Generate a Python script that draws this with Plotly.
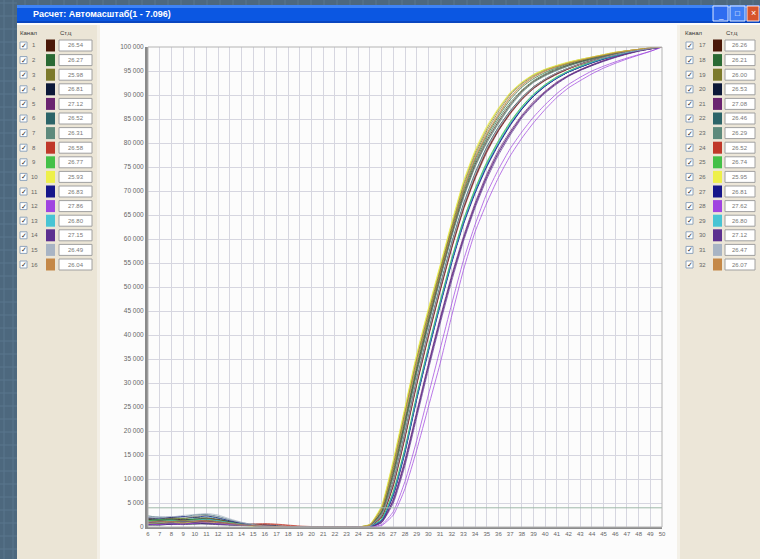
import plotly.graph_objects as go

# ---------------- data ----------------
cycles = list(range(6, 51))
well_ids = list(range(1, 33))
well_colors = ["#4a1808", "#2a6a34", "#7c7a2c", "#0c1838", "#6a2470", "#2c6468",
               "#5e8a7c", "#c0382a", "#44c048", "#eef04a", "#16168a", "#a044e0",
               "#48c4d4", "#5c3090", "#a8b4c4", "#c48848"] * 2
ct_values = ["26.54", "26.27", "25.98", "26.81", "27.12", "26.52", "26.31", "26.58",
             "26.77", "25.93", "26.83", "27.86", "26.80", "27.15", "26.49", "26.04",
             "26.26", "26.21", "26.00", "26.53", "27.08", "26.46", "26.29", "26.52",
             "26.74", "25.95", "26.81", "27.62", "26.80", "27.12", "26.47", "26.07"]
threshold = 4000
y_ticks = list(range(0, 100001, 5000))
title_text = "Расчет: Автомасштаб(1 - 7.096)"
header_left = "Канал"
header_right = "Cт,ц"

# fluorescence, thousands of units, cycles 6..50
w01 = [1.4,1.2,1.5,1.3,1.6,1.4,1.1,0.8,0.5,0.3,0.2,0.1,0,0,0,0,0,0,0, 0.2,2.4,9.5,19.5,30.5,40.5,50,59,67,73.5,79,83.2,86.6,89.4,91.7,93.3,94.6,95.6,96.5,97.2,97.9,98.5,99,99.4,99.7,100]
w02 = [0.8,0.9,0.7,1.0,0.9,0.8,0.6,0.5,0.3,0.2,0.1,0,0,0,0,0,0,0,0, 0.3,3.2,11.5,22,33,43,52.5,61.5,69.5,76,81,85,88.4,91,93,94.4,95.5,96.3,97,97.6,98.2,98.7,99.1,99.4,99.7,100]
w03 = [1.9,1.7,2.0,1.8,2.2,2.4,1.9,1.3,0.8,0.4,0.2,0.1,0,0,0,0,0,0,0, 0.5,4.2,13.5,24.5,35.5,45,54,63,71.5,78,83,87,90.3,92.5,94.2,95.3,96.1,96.8,97.4,97.9,98.4,98.9,99.2,99.5,99.8,100]
w04 = [0.4,0.5,0.6,0.5,0.7,0.6,0.5,0.4,0.5,0.6,0.5,0.3,0.1,0,0,0,0,0,0, 0.1,1.4,6.8,15.8,26.8,36.8,46.3,55.3,63.3,69.8,75.3,79.8,83.8,87.1,89.8,91.9,93.5,94.8,95.8,96.7,97.5,98.2,98.8,99.3,99.7,100]
w05 = [1.1,1.3,1.0,1.2,1.1,1.5,1.2,0.9,0.6,0.4,0.2,0.1,0,0,0,0,0,0,0, 0,1.0,5.5,13.5,23.5,33.5,43,52,60,67,73,78,82,85.5,88.3,90.6,92.5,94,95.2,96.2,97.1,97.9,98.6,99.2,99.6,100]
w06 = [2.3,2.0,1.8,2.1,2.5,2.6,2.2,1.5,0.9,0.5,0.3,0.1,0,0,0,0,0,0,0, 0.2,2.2,9,19,30,40,49.5,58.5,66.5,73,78.5,82.8,86.3,89.2,91.5,93.2,94.5,95.5,96.4,97.1,97.8,98.4,98.9,99.3,99.7,100]
w07 = [1.0,1.1,1.2,0.9,1.0,1.3,1.0,0.7,0.5,0.3,0.2,0.1,0,0,0,0,0,0,0, 0.3,2.8,10.5,21,32,42,51.5,60.5,68.5,75,80,84,87.6,90.5,92.6,94,95.1,96,96.8,97.4,98,98.5,99,99.4,99.7,100]
w08 = [0.6,0.7,0.9,0.8,0.9,1.0,0.8,0.6,0.5,0.6,0.7,0.6,0.4,0.2,0.1,0,0,0,0, 0.2,2.0,8.5,18.5,29.5,39.5,49,58,66,72.5,78,82.5,86,89,91.3,93,94.3,95.4,96.3,97,97.7,98.3,98.9,99.3,99.7,100]
w09 = [1.5,1.4,1.6,1.7,1.5,1.8,1.4,1.0,0.6,0.3,0.1,0,0,0,0,0,0,0,0, 0.1,1.6,7.2,16.2,27.2,37.2,46.8,55.8,63.8,70.3,75.8,80.3,84.2,87.5,90.1,92.1,93.7,95,96,96.9,97.6,98.2,98.8,99.3,99.7,100]
w10 = [0.9,1.0,1.1,1.2,1.4,1.2,1.0,0.7,0.4,0.2,0.1,0,0,0,0,0,0,0,0, 0.6,4.5,14,25,36,45.5,54.5,63.5,72,78.5,83.5,87.3,90.5,92.7,94.3,95.4,96.2,96.9,97.4,97.9,98.4,98.9,99.2,99.5,99.8,100]
w11 = [1.7,1.5,1.3,1.6,1.4,1.7,1.5,1.1,0.7,0.4,0.2,0.1,0,0,0,0,0,0,0, 0.1,1.3,6.5,15.5,26.5,36.5,46,55,63,69.5,75,79.6,83.6,87,89.7,91.8,93.5,94.8,95.8,96.7,97.5,98.2,98.8,99.3,99.7,100]
w12 = [0.5,0.6,0.5,0.7,0.8,0.7,0.6,0.5,0.4,0.3,0.2,0.1,0,0,0,0,0,0,0, 0,0.3,2.5,8,16,25,34,44,53.5,61.5,67.5,72.8,77.3,81,84.2,87,89.5,91.5,93,94.4,95.6,96.6,97.5,98.3,99.1,100]
w13 = [1.2,1.4,1.3,1.5,1.9,2.1,1.8,1.2,0.7,0.4,0.2,0.1,0,0,0,0,0,0,0, 0.1,1.5,7,16,27,37,46.5,55.5,63.5,70,75.5,80,84,87.3,90,92,93.6,94.9,95.9,96.8,97.6,98.2,98.8,99.3,99.7,100]
w14 = [0.7,0.8,1.0,0.9,1.1,0.9,0.8,0.6,0.4,0.3,0.2,0.1,0,0,0,0,0,0,0, 0,0.9,5,12.8,22.8,32.8,42.3,51.3,59.5,66.5,72.5,77.5,81.6,85.2,88,90.4,92.3,93.9,95.1,96.1,97,97.8,98.5,99.1,99.6,100]
w15 = [2.0,2.2,2.1,2.4,2.6,2.8,2.5,1.7,1.0,0.5,0.2,0.1,0,0,0,0,0,0,0, 0.2,2.3,9.2,19.3,30.3,40.3,49.8,58.8,66.8,73.3,78.8,83,86.5,89.3,91.6,93.3,94.6,95.6,96.4,97.1,97.8,98.4,98.9,99.3,99.7,100]
w16 = [1.3,1.1,1.4,1.2,1.5,1.3,1.2,0.9,0.6,0.4,0.2,0.1,0,0,0,0,0,0,0, 0.4,3.8,12.5,23.5,34.5,44,53,62,70.5,77,82,86,89.6,92,93.8,95,95.9,96.6,97.2,97.8,98.3,98.8,99.2,99.5,99.8,100]
w17 = [1.6,1.4,1.7,1.5,1.6,1.9,1.6,1.1,0.7,0.4,0.2,0.1,0,0,0,0,0,0,0, 0.3,3,11,21.5,32.5,42.5,52,61,69,75.5,80.5,84.5,88,90.8,92.8,94.2,95.3,96.2,96.9,97.5,98.1,98.6,99,99.4,99.7,100]
w18 = [0.9,0.8,1.0,1.1,1.0,1.2,0.9,0.7,0.5,0.3,0.2,0.1,0,0,0,0,0,0,0, 0.3,3.4,12,22.5,33.5,43.5,53,62,70,76.5,81.5,85.5,89,91.6,93.4,94.7,95.7,96.5,97.1,97.7,98.2,98.7,99.1,99.4,99.7,100]
w19 = [1.8,1.6,1.9,1.7,2.0,1.8,1.5,1.0,0.6,0.3,0.1,0,0,0,0,0,0,0,0, 0.5,4,13,24,35,44.5,53.5,62.5,71,77.5,82.5,86.5,90,92.3,94,95.2,96,96.7,97.3,97.8,98.3,98.8,99.2,99.5,99.8,100]
w20 = [0.5,0.4,0.6,0.7,0.6,0.8,0.7,0.5,0.4,0.3,0.2,0.1,0,0,0,0,0,0,0, 0.2,2.1,8.8,18.8,29.8,39.8,49.3,58.3,66.3,72.8,78.3,82.6,86.2,89.1,91.4,93.1,94.4,95.5,96.4,97.1,97.8,98.4,98.9,99.3,99.7,100]
w21 = [1.0,1.2,1.1,1.3,1.2,1.4,1.1,0.8,0.5,0.3,0.2,0.1,0,0,0,0,0,0,0, 0,1.1,5.8,14,24,34,43.5,52.5,60.5,67.5,73.5,78.5,82.4,85.8,88.6,90.8,92.7,94.1,95.3,96.3,97.2,98,98.6,99.2,99.6,100]
w22 = [1.4,1.6,1.5,1.3,1.7,1.6,1.3,0.9,0.6,0.4,0.2,0.1,0,0,0,0,0,0,0, 0.2,2.5,9.5,19.8,30.8,40.8,50.3,59.3,67.3,73.8,79.2,83.3,86.7,89.5,91.7,93.3,94.6,95.6,96.4,97.1,97.8,98.4,98.9,99.3,99.7,100]
w23 = [0.7,0.9,0.8,1.0,1.1,0.9,0.8,0.6,0.4,0.3,0.2,0.1,0,0,0,0,0,0,0, 0.3,2.9,10.8,21.2,32.2,42.2,51.7,60.7,68.7,75.2,80.2,84.2,87.8,90.6,92.7,94.1,95.2,96.1,96.8,97.5,98.1,98.6,99,99.4,99.7,100]
w24 = [1.1,0.9,1.2,1.0,1.3,1.1,0.9,0.7,0.6,0.5,0.6,0.5,0.3,0.1,0,0,0,0,0, 0.2,2.2,9,19,30,40,49.5,58.5,66.5,73,78.5,82.8,86.3,89.2,91.5,93.2,94.5,95.5,96.4,97.1,97.8,98.4,98.9,99.3,99.7,100]
w25 = [1.3,1.5,1.4,1.2,1.6,1.5,1.2,0.9,0.6,0.4,0.2,0.1,0,0,0,0,0,0,0, 0.1,1.7,7.5,16.5,27.5,37.5,47,56,64,70.5,76,80.5,84.4,87.6,90.2,92.2,93.8,95,96,96.9,97.6,98.2,98.8,99.3,99.7,100]
w26 = [0.8,0.9,1.0,0.8,1.1,1.0,0.9,0.6,0.4,0.2,0.1,0,0,0,0,0,0,0,0, 0.5,4.3,13.8,24.8,35.8,45.3,54.3,63.3,71.8,78.2,83.2,87.1,90.4,92.6,94.2,95.3,96.1,96.8,97.4,97.9,98.4,98.9,99.2,99.5,99.8,100]
w27 = [1.9,1.8,2.0,2.2,2.0,2.3,1.9,1.3,0.8,0.4,0.2,0.1,0,0,0,0,0,0,0, 0.1,1.4,6.8,15.8,26.8,36.8,46.3,55.3,63.3,69.8,75.3,79.8,83.8,87.1,89.8,91.9,93.5,94.8,95.8,96.7,97.5,98.2,98.8,99.3,99.7,100]
w28 = [0.6,0.5,0.7,0.6,0.8,0.9,0.7,0.5,0.4,0.3,0.2,0.1,0,0,0,0,0,0,0, 0,0.5,3.2,9.5,18,27.5,37,46.5,55.5,63,69.5,74.5,78.8,82.3,85.4,88,90.3,92.2,93.7,95,96,96.9,97.7,98.4,99.1,100]
w29 = [1.2,1.0,1.3,1.1,1.4,1.6,1.3,0.9,0.6,0.3,0.1,0,0,0,0,0,0,0,0, 0.1,1.5,7,16,27,37,46.5,55.5,63.5,70,75.5,80,84,87.3,90,92,93.6,94.9,95.9,96.8,97.6,98.2,98.8,99.3,99.7,100]
w30 = [0.9,1.1,1.0,1.2,1.0,1.3,1.0,0.7,0.5,0.3,0.2,0.1,0,0,0,0,0,0,0, 0,1.0,5.5,13.5,23.5,33.5,43,52,60,67,73,78,82,85.5,88.3,90.6,92.5,94,95.2,96.2,97.1,97.9,98.6,99.2,99.6,100]
w31 = [2.1,1.9,2.2,2.0,2.3,2.5,2.1,1.5,0.9,0.5,0.2,0.1,0,0,0,0,0,0,0, 0.2,2.4,9.3,19.4,30.4,40.4,49.9,58.9,66.9,73.4,78.9,83.1,86.5,89.3,91.6,93.3,94.6,95.6,96.4,97.1,97.8,98.4,98.9,99.3,99.7,100]
w32 = [1.0,1.2,1.1,1.3,1.2,1.4,1.1,0.8,0.5,0.3,0.2,0.1,0,0,0,0,0,0,0, 0.4,3.6,12.2,23.2,34.2,43.8,52.8,61.8,70.2,76.8,81.8,85.8,89.4,91.9,93.7,95,95.9,96.6,97.2,97.8,98.3,98.8,99.2,99.5,99.8,100]

wells = [w01, w02, w03, w04, w05, w06, w07, w08, w09, w10, w11, w12, w13, w14, w15, w16,
         w17, w18, w19, w20, w21, w22, w23, w24, w25, w26, w27, w28, w29, w30, w31, w32]

# ---------------- layout geometry (pixels) ----------------
W, H = 760, 559
PL, PR, PT, PB = 148, 662, 47, 527


def px(x):
    return (x - PL) / (PR - PL)


def py(y):
    return (PB - y) / (PB - PT)


FONT = "Liberation Sans, Arial, sans-serif"

fig = go.Figure()

for i, vals in enumerate(wells):
    fig.add_trace(go.Scatter(
        x=cycles, y=[v * 1000 for v in vals], mode="lines",
        line=dict(color=well_colors[i], width=1, shape="spline", smoothing=0.5),
        opacity=0.72, hoverinfo="skip", showlegend=False))

fig.add_trace(go.Scatter(
    x=[cycles[0], cycles[-1]], y=[threshold, threshold], mode="lines",
    line=dict(color="#9fb8a8", width=1), hoverinfo="skip", showlegend=False))

shapes = []
annotations = []


def rect(x0, y0, x1, y1, fill, line_color=None, lw=0, layer="below"):
    shapes.append(dict(type="rect", xref="paper", yref="paper",
                       x0=px(x0), x1=px(x1), y0=py(y1), y1=py(y0),
                       fillcolor=fill,
                       line=dict(color=line_color or fill, width=lw),
                       layer=layer))


def line(x0, y0, x1, y1, color, lw=1, layer="below"):
    shapes.append(dict(type="line", xref="paper", yref="paper",
                       x0=px(x0), x1=px(x1), y0=py(y0), y1=py(y1),
                       line=dict(color=color, width=lw), layer=layer))


def text(x, y, s, size=6, color="#555555", xanchor="center", bold=False):
    annotations.append(dict(xref="paper", yref="paper", x=px(x), y=py(y),
                            text=("<b>%s</b>" % s) if bold else s, showarrow=False,
                            xanchor=xanchor, yanchor="middle",
                            font=dict(size=size, color=color, family=FONT)))


# slide background pattern (left / top strip)
for gx in [4, 13]:
    line(gx, 0, gx, H, "#5b778d", 1)
for gy in range(3, H, 13):
    line(0, gy, 17, gy, "#5b778d", 1)
for gx in range(25, W, 13):
    line(gx, 0, gx, 5, "#5b778d", 1)

# window
rect(17, 23, 760, 559, "#fcfcfc")
rect(17, 5, 760, 23, "#0b57e2")
rect(17, 5, 760, 8, "#3f84f6")
rect(17, 21, 760, 23, "#0a46c0")
rect(17, 25, 97, 559, "#ebe5d6")
rect(97, 25, 100, 559, "#f3efe6")
rect(680, 25, 760, 559, "#ece6d8")
rect(677, 25, 680, 559, "#f4f1e9")

# title bar buttons
rect(713, 6, 728, 21, "#2e6cf0", "#dfe9ff", 1, "above")
rect(730, 6, 745, 21, "#3f7ff4", "#dfe9ff", 1, "above")
rect(747, 6, 759, 21, "#d7542c", "#ffe0d6", 1, "above")
text(720.5, 15, "_", 8, "white")
text(737.5, 13.5, "□", 8, "white")
text(753, 13.5, "×", 9, "white")
text(31, 14, title_text, 9, "white", xanchor="left", bold=True)

# plot frame
rect(PL, PT, PR, PB, "rgba(0,0,0,0)", "#b4b4b4", 1, "above")

# side panels: headers and rows
text(18, 33, header_left, 6, "#333333", xanchor="left")
text(58, 33, header_right, 6, "#333333", xanchor="left")
text(683, 33, header_left, 6, "#333333", xanchor="left")
text(724, 33, header_right, 6, "#333333", xanchor="left")

row0, dy = 45.5, 14.6
panels = [(0, 20, 34, 46, 55, 59, 92), (16, 686, 702, 713, 722, 725, 755)]
for start, cbx, numx, swx0, swx1, bx0, bx1 in panels:
    for r in range(16):
        k = start + r
        yc = row0 + dy * r
        rect(cbx, yc - 3.5, cbx + 7, yc + 3.5, "#ffffff", "#8fa4bc", 1, "above")
        text(cbx + 3.5, yc, "✓", 7, "#2a2a2a")
        text(numx, yc, str(well_ids[k]), 6, "#666666")
        rect(swx0, yc - 6, swx1, yc + 6, well_colors[k], well_colors[k], 0, "above")
        rect(bx0, yc - 5.5, bx1, yc + 5.5, "#ffffff", "#a0a0a0", 1, "above")
        text((bx0 + bx1) / 2, yc, ct_values[k], 6, "#777777")

fig.update_layout(
    width=W, height=H,
    margin=dict(l=PL, r=W - PR, t=PT, b=H - PB, pad=0),
    paper_bgcolor="#4d687e",
    plot_bgcolor="#ffffff",
    separators=". ",
    font=dict(family=FONT, size=6, color="#666666"),
    shapes=shapes,
    annotations=annotations,
    xaxis=dict(range=[6, 50], tickmode="array", tickvals=cycles,
               ticktext=[str(c) for c in cycles],
               showgrid=True, gridcolor="#d6d6e0", gridwidth=1,
               zeroline=False, showline=True, linecolor="#8c8c8c", linewidth=2,
               ticks="", tickfont=dict(size=6, color="#666666"), fixedrange=True),
    yaxis=dict(range=[0, 100000], tickmode="array", tickvals=y_ticks,
               tickformat=",d", showgrid=True, gridcolor="#d6d6e0", gridwidth=1,
               zeroline=False, showline=True, linecolor="#8a8a8a", linewidth=3,
               ticks="", tickfont=dict(size=6.5, color="#666666"), fixedrange=True),
)

fig.write_html("out.html", config={"displayModeBar": False},
               post_script="document.body.style.margin='0';document.body.style.overflow='hidden';")
